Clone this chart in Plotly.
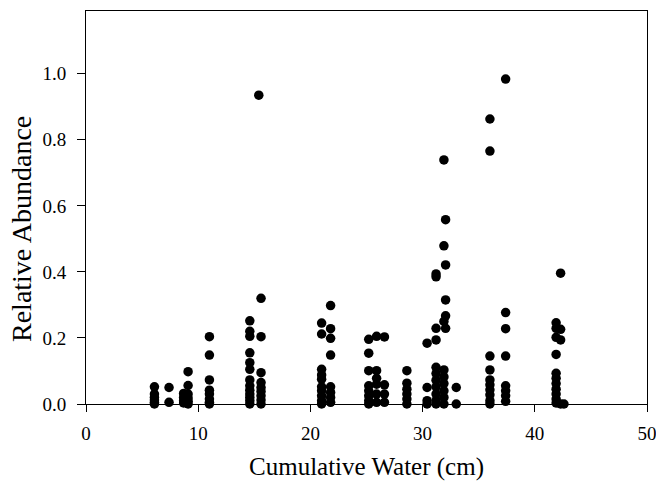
import plotly.graph_objects as go

# Column x positions (Cumulative Water, cm) and their relative-abundance values
col_x = [6.1, 7.4, 8.7, 9.1, 11.0, 14.6, 15.4, 15.6, 21.0, 21.8, 25.2, 25.9, 26.6,
         28.6, 30.4, 31.2, 31.9, 32.05, 33.0, 36.0, 37.4, 41.9, 42.3, 42.6]
col_y = [
    [0.052, 0.03, 0.02, 0.012, 0.005, 0.0],
    [0.05, 0.005],
    [0.032, 0.02, 0.01, 0.003],
    [0.098, 0.056, 0.03, 0.018, 0.008, 0.0],
    [0.204, 0.148, 0.073, 0.042, 0.03, 0.015, 0.005, 0.0],
    [0.252, 0.22, 0.205, 0.155, 0.125, 0.105, 0.073, 0.055, 0.042, 0.03, 0.02, 0.01, 0.0],
    [0.935],
    [0.32, 0.204, 0.095, 0.065, 0.05, 0.038, 0.025, 0.012, 0.0],
    [0.245, 0.212, 0.105, 0.088, 0.075, 0.052, 0.04, 0.025, 0.01, 0.0],
    [0.298, 0.228, 0.199, 0.148, 0.052, 0.035, 0.02, 0.005],
    [0.196, 0.154, 0.101, 0.055, 0.04, 0.025, 0.01, 0.0],
    [0.205, 0.101, 0.078, 0.06, 0.03, 0.005],
    [0.203, 0.058, 0.03, 0.005],
    [0.101, 0.063, 0.045, 0.03, 0.015, 0.0],
    [0.184, 0.05, 0.01, 0.0],
    [0.394, 0.385, 0.229, 0.194, 0.111, 0.092, 0.072, 0.052, 0.03, 0.01, 0.0],
    [0.739, 0.479, 0.25, 0.103, 0.082, 0.062, 0.04, 0.02, 0.0],
    [0.558, 0.421, 0.315, 0.267, 0.229],
    [0.05, 0.0],
    [0.863, 0.766, 0.145, 0.103, 0.073, 0.058, 0.043, 0.028, 0.01, 0.0],
    [0.984, 0.277, 0.228, 0.145, 0.055, 0.04, 0.025, 0.008],
    [0.246, 0.229, 0.202, 0.15, 0.093, 0.078, 0.062, 0.045, 0.03, 0.015, 0.003],
    [0.396, 0.226, 0.194, 0.0],
    [0.0],
]

x_ticks = [0, 10, 20, 30, 40, 50]
y_ticks = [0.0, 0.2, 0.4, 0.6, 0.8, 1.0]
x_title = "Cumulative Water (cm)"
y_title = "Relative Abundance"

xs, ys = [], []
for cx, vals in zip(col_x, col_y):
    for v in vals:
        xs.append(cx)
        ys.append(v)

FONT = "Liberation Serif, Times New Roman, serif"

fig = go.Figure(go.Scatter(
    x=xs, y=ys, mode="markers",
    marker=dict(color="black", size=9.5, line=dict(width=0)),
    cliponaxis=False, showlegend=False,
))

axis_common = dict(
    showline=True, linecolor="black", linewidth=1, mirror=True,
    ticks="outside", tickwidth=1, tickcolor="black",
    showgrid=False, zeroline=False, automargin=False,
    ticklabeloverflow="allow",
    tickfont=dict(family=FONT, size=19, color="black"),
)

fig.update_layout(
    width=656, height=481,
    margin=dict(l=86, r=9, t=11, b=77),
    paper_bgcolor="white", plot_bgcolor="white",
    font=dict(family=FONT, color="black"),
    xaxis=dict(range=[0, 50], tickvals=x_ticks, ticklen=7, ticklabelstandoff=5,
               title=dict(text=x_title, font=dict(family=FONT, size=25), standoff=18),
               **axis_common),
    yaxis=dict(range=[0, 1.19], tickvals=y_ticks, tickformat=".1f", ticklen=8,
               ticklabelstandoff=7, **axis_common),
    annotations=[dict(
        text=y_title, textangle=-90, showarrow=False,
        xref="paper", yref="paper", x=(22 - 86) / 561, y=(404 - 229) / 393,
        xanchor="center", yanchor="middle",
        font=dict(family=FONT, size=28, color="black"),
    )],
)

fig.write_html("out.html")
